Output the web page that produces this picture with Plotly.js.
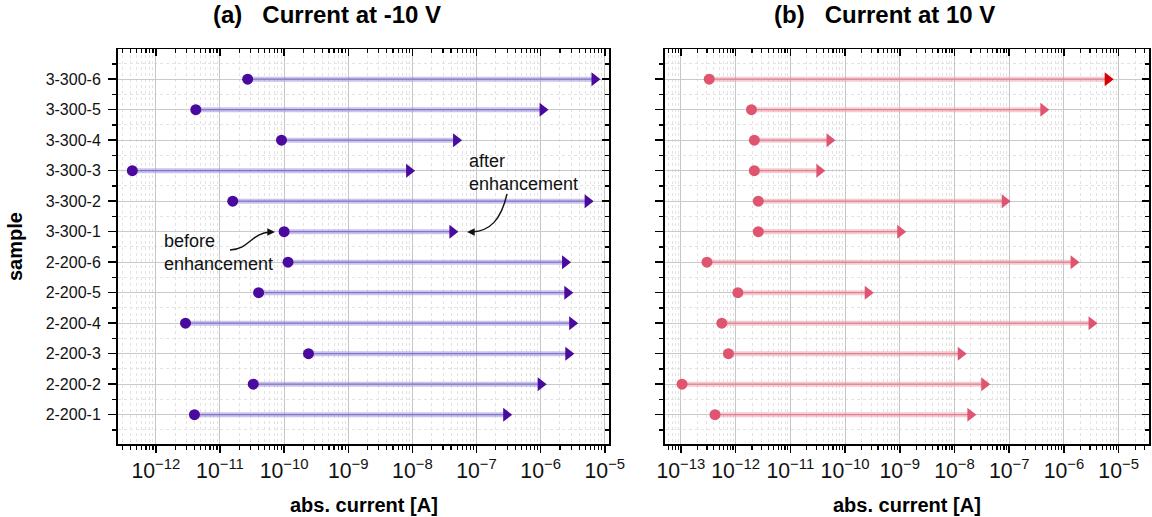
<!DOCTYPE html>
<html>
<head>
<meta charset="utf-8">
<script src="https://cdn.plot.ly/plotly-3.0.1.min.js"></script>
<style>html,body{margin:0;padding:0;background:#fff;}#chart{width:1152px;height:517px;}</style>
</head>
<body>
<div id="chart"></div>
<script>
// ---- data ----
const samples = ['2-200-1','2-200-2','2-200-3','2-200-4','2-200-5','2-200-6','3-300-1','3-300-2','3-300-3','3-300-4','3-300-5','3-300-6'];
// Current at -10 V
const negBefore = [4.0e-12, 3.3e-11, 2.4e-10, 2.9e-12, 4.0e-11, 1.15e-10, 1.0e-10, 1.58e-11, 4.3e-13, 9.1e-11, 4.2e-12, 2.7e-11];
const negAfter  = [2.9e-7, 1.0e-6, 2.7e-6, 3.1e-6, 2.6e-6, 2.4e-6, 4.2e-8, 5.4e-6, 8.9e-9, 4.8e-8, 1.07e-6, 6.9e-6];
// Current at 10 V
const posBefore = [4.2e-13, 1.05e-13, 7.4e-13, 5.6e-13, 1.1e-12, 3.0e-13, 2.6e-12, 2.6e-12, 2.2e-12, 2.2e-12, 1.95e-12, 3.3e-13];
const posAfter  = [1.95e-8, 3.5e-8, 1.3e-8, 3.2e-6, 2.6e-10, 1.5e-6, 1.02e-9, 8.3e-8, 3.4e-11, 5.2e-11, 4.2e-7, 6.3e-6];
const highlighted = '3-300-6';

const titles = ['(a)\u00a0\u00a0\u00a0Current at -10 V', '(b)\u00a0\u00a0\u00a0Current at 10 V'];
const xTitle = 'abs. current [A]';
const yTitle = 'sample';
const noteAfter = 'after<br>enhancement';
const noteBefore = 'before<br>enhancement';

// ---- styling ----
const W = 1152, H = 517;
const FONT = 'Liberation Sans, Arial, Helvetica, sans-serif';
const idx = samples.map((_, i) => i);
const px = v => v / W;            // pixel -> paper x
const py = v => 1 - v / H;        // pixel -> paper y

function segX(b, a) { return b.flatMap((v, i) => [v, a[i], null]); }
function segY() { return idx.flatMap(i => [i, i, null]); }

function panelTraces(before, after, xa, ya, bandCol, coreCol, dotCol, triCols) {
  return [
    {type:'scatter', mode:'lines', x:segX(before, after), y:segY(), xaxis:xa, yaxis:ya,
     line:{color:bandCol, width:5}, hoverinfo:'skip', showlegend:false},
    {type:'scatter', mode:'lines', x:segX(before, after), y:segY(), xaxis:xa, yaxis:ya,
     line:{color:coreCol, width:1.2}, hoverinfo:'skip', showlegend:false},
    {type:'scatter', mode:'markers', x:before, y:idx, xaxis:xa, yaxis:ya,
     marker:{symbol:'circle', size:11, color:dotCol}, showlegend:false},
    {type:'scatter', mode:'markers', x:after, y:idx, xaxis:xa, yaxis:ya,
     marker:{symbol:'triangle-right', size:12, color:triCols}, showlegend:false}
  ];
}
// invisible helper traces so the mirrored (top / right) axes get drawn
function ghost(x, xa, ya) {
  return {type:'scatter', mode:'markers', x:x, y:idx, xaxis:xa, yaxis:ya,
          marker:{opacity:0, size:1}, hoverinfo:'skip', showlegend:false};
}

const purple = '#4a0a9e';
const pink = '#df5570';
const triPink = samples.map(s => s === highlighted ? '#d80000' : pink);

const data = [
  ghost(negBefore, 'x3', 'y'), ghost(negBefore, 'x', 'y3'),
  ghost(posBefore, 'x4', 'y2'), ghost(posBefore, 'x2', 'y4'),
  ...panelTraces(negBefore, negAfter, 'x', 'y', 'rgba(160,148,222,0.55)', 'rgba(100,78,190,0.6)', purple, purple),
  ...panelTraces(posBefore, posAfter, 'x2', 'y2', 'rgba(238,160,172,0.55)', 'rgba(215,90,112,0.55)', pink, triPink)
];

const yDom = [py(444.3), py(49)];
const xDom1 = [px(118), px(609.3)];
const xDom2 = [px(665), px(1149.3)];
const xRange1 = [-12.59, -4.93];
const xRange2 = [-13.29, -4.44];
const yRange = [-0.97, 11.99];

function xMain(dom, rng, anchor) {
  return {
    type:'log', domain:dom, range:rng, anchor:anchor, dtick:1, exponentformat:'power',
    ticks:'outside', ticklen:7, tickwidth:1.5, tickcolor:'#000',
    showline:true, linewidth:2, linecolor:'#000', zeroline:false,
    showgrid:true, gridcolor:'#c6c6c6', gridwidth:1,
    tickfont:{family:FONT, size:17, color:'#111'},
    minor:{dtick:'D1', ticks:'outside', ticklen:4, tickwidth:1.2, tickcolor:'#000',
           showgrid:true, gridcolor:'#e3e3e3', griddash:'dot', gridwidth:1}
  };
}
function xTop(dom, rng, over, anchor) {
  return {
    type:'log', domain:dom, range:rng, overlaying:over, anchor:anchor, side:'top', dtick:1,
    ticks:'inside', ticklen:7, tickwidth:1.5, tickcolor:'#000', showticklabels:false,
    showline:true, linewidth:1.5, linecolor:'#000', showgrid:false, zeroline:false,
    minor:{dtick:'D1', ticks:'inside', ticklen:4, tickwidth:1.2, tickcolor:'#000', showgrid:false}
  };
}
function yMain(anchor, labels) {
  return {
    domain:yDom, range:yRange, anchor:anchor, tickmode:'array', tickvals:idx, ticktext:samples,
    showticklabels:labels, ticks:'outside', ticklen:8, tickwidth:1.5, tickcolor:'#000',
    ticklabelstandoff:4,
    showline:true, linewidth:2, linecolor:'#000', zeroline:false,
    showgrid:true, gridcolor:'#cacaca', gridwidth:1,
    tickfont:{family:FONT, size:16, color:'#111'},
    minor:{tick0:0.5, dtick:1, ticks:'outside', ticklen:4, tickwidth:1.2, tickcolor:'#000',
           showgrid:true, gridcolor:'#e3e3e3', griddash:'dot', gridwidth:1}
  };
}
function yRight(over, anchor) {
  return {
    domain:yDom, range:yRange, overlaying:over, anchor:anchor, side:'right',
    tickmode:'array', tickvals:idx, showticklabels:false,
    ticks:'inside', ticklen:7, tickwidth:1.5, tickcolor:'#000',
    showline:true, linewidth:1.5, linecolor:'#000', showgrid:false, zeroline:false,
    minor:{tick0:0.5, dtick:1, ticks:'inside', ticklen:4, tickwidth:1.2, tickcolor:'#000', showgrid:false}
  };
}

const titleFont = {family:FONT, size:24, color:'#000'};
const axFont = {family:FONT, size:20, color:'#000'};
const noteFont = {family:FONT, size:18, color:'#111'};

function curve(d) {
  return {type:'path', xref:'paper', yref:'paper', path:d, line:{color:'#111', width:1.4}, layer:'above'};
}
function P(x, y) { return px(x) + ',' + py(y); }
function head(tx, ty, ax, ay) {
  return {text:'', xref:'paper', yref:'paper', x:px(tx), y:py(ty), ax:ax, ay:ay,
          showarrow:true, arrowhead:2, arrowsize:1.1, arrowwidth:1.4, arrowcolor:'#111', standoff:0};
}

const layout = {
  width:W, height:H, margin:{l:0, r:0, t:0, b:0},
  paper_bgcolor:'#fff', plot_bgcolor:'#fff', showlegend:false,
  xaxis: xMain(xDom1, xRange1, 'y'),
  xaxis2: xMain(xDom2, xRange2, 'y2'),
  xaxis3: xTop(xDom1, xRange1, 'x', 'y'),
  xaxis4: xTop(xDom2, xRange2, 'x2', 'y2'),
  yaxis: yMain('x', true),
  yaxis2: yMain('x2', false),
  yaxis3: yRight('y', 'x'),
  yaxis4: yRight('y2', 'x2'),
  shapes: [
    curve('M' + P(507,194) + ' C' + P(501,220) + ' ' + P(490,231) + ' ' + P(472,232)),
    curve('M' + P(230,250) + ' C' + P(250,249) + ' ' + P(251,233) + ' ' + P(270,232))
  ],
  annotations: [
    {text:'<b>'+titles[0]+'</b>', xref:'paper', yref:'paper', x:px(327), y:py(14),
     xanchor:'center', yanchor:'middle', showarrow:false, font:titleFont},
    {text:'<b>'+titles[1]+'</b>', xref:'paper', yref:'paper', x:px(884), y:py(14),
     xanchor:'center', yanchor:'middle', showarrow:false, font:titleFont},
    {text:'<b>'+xTitle+'</b>', xref:'paper', yref:'paper', x:(xDom1[0]+xDom1[1])/2, y:py(505),
     xanchor:'center', yanchor:'middle', showarrow:false, font:axFont},
    {text:'<b>'+xTitle+'</b>', xref:'paper', yref:'paper', x:(xDom2[0]+xDom2[1])/2, y:py(505),
     xanchor:'center', yanchor:'middle', showarrow:false, font:axFont},
    {text:'<b>'+yTitle+'</b>', xref:'paper', yref:'paper', x:px(15), y:py(247), textangle:-90,
     xanchor:'center', yanchor:'middle', showarrow:false, font:axFont},
    {text:noteAfter, xref:'paper', yref:'paper', x:px(467), y:py(172), xanchor:'left', yanchor:'middle',
     align:'left', showarrow:false, font:noteFont},
    {text:noteBefore, xref:'paper', yref:'paper', x:px(162), y:py(252), xanchor:'left', yanchor:'middle',
     align:'left', showarrow:false, font:noteFont},
    head(467, 232, 7, 0),
    head(275, 232, -7, 0)
  ]
};

Plotly.newPlot('chart', data, layout, {displayModeBar:false, staticPlot:true});
</script>
</body>
</html>
